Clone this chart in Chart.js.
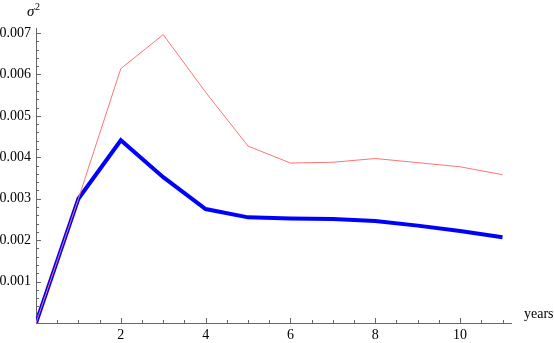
<!DOCTYPE html>
<html>
<head>
<meta charset="utf-8">
<script src="https://cdn.jsdelivr.net/npm/chart.js@4.4.1/dist/chart.umd.min.js"></script>
<style>
  html, body { margin: 0; padding: 0; background: #fff; }
  #wrap { width: 554px; height: 343px; position: relative; }
</style>
</head>
<body>
<div id="wrap"><canvas id="sigmaChart"></canvas></div>
<script>
// years on the x axis
const years = [0, 1, 2, 3, 4, 5, 6, 7, 8, 9, 10, 11];
// thin red series
const redSigma = [0, 0.00300, 0.00614, 0.00696, 0.00557, 0.00427, 0.00386, 0.00388, 0.00397, 0.00387, 0.00377, 0.00358];
// thick blue series
const blueSigma = [0, 0.00300, 0.00441, 0.00352, 0.00275, 0.00255, 0.00252, 0.00251, 0.00246, 0.00235, 0.00222, 0.00207];

const xMax = 11.2, yMax = 0.00712;
const xMinorStep = 0.5, yMinorStep = 0.0002;

const axisColor = '#666';
const serif = "'Liberation Serif', 'Times New Roman', serif";
const font = { family: serif, size: 14 };

const pts = arr => years.map((x, i) => ({ x: x, y: arr[i] }));

// inward ticks + axis names, Mathematica style
const axisDecor = {
  id: 'axisDecor',
  afterDraw(chart) {
    const c = chart.ctx;
    const xs = chart.scales.x, ys = chart.scales.y;
    const area = chart.chartArea;
    c.save();
    c.strokeStyle = axisColor;
    c.lineWidth = 1;
    c.beginPath();
    for (let k = 1; k * xMinorStep <= xMax + 1e-9; k++) {
      const px = Math.round(xs.getPixelForValue(k * xMinorStep)) + 0.5;
      const len = k % 4 === 0 ? 5 : 3;
      c.moveTo(px, area.bottom);
      c.lineTo(px, area.bottom - len);
    }
    for (let k = 1; k * yMinorStep <= yMax + 1e-12; k++) {
      const py = Math.round(ys.getPixelForValue(k * yMinorStep)) + 0.5;
      const len = k % 5 === 0 ? 5 : 3;
      c.moveTo(area.left, py);
      c.lineTo(area.left + len, py);
    }
    c.stroke();

    c.fillStyle = '#000';
    c.textBaseline = 'alphabetic';
    c.textAlign = 'left';
    c.font = 'italic 15px ' + serif;
    c.fillText('σ', 27, 16);
    c.font = '10px ' + serif;
    c.fillText('2', 35, 10);
    c.font = '14px ' + serif;
    c.fillText('years', 524, 318);
    c.restore();
  }
};

new Chart(document.getElementById('sigmaChart'), {
  type: 'line',
  data: {
    datasets: [
      {
        label: 'red',
        data: pts(redSigma),
        borderColor: '#ff7373',
        borderWidth: 1,
        pointRadius: 0,
        tension: 0
      },
      {
        label: 'blue',
        data: pts(blueSigma),
        borderColor: '#0000ff',
        borderWidth: 4,
        pointRadius: 0,
        tension: 0
      }
    ]
  },
  options: {
    responsive: true,
    maintainAspectRatio: false,
    animation: false,
    layout: { padding: { top: 28, right: 43, left: 0, bottom: 0 } },
    plugins: { legend: { display: false }, tooltip: { enabled: false } },
    scales: {
      x: {
        type: 'linear',
        min: 0,
        max: xMax,
        afterFit: s => { s.height = 20; },
        border: { display: true, color: axisColor, width: 1 },
        grid: { display: false, drawTicks: false },
        ticks: {
          stepSize: 2,
          includeBounds: false,
          autoSkip: false,
          maxRotation: 0,
          padding: 4,
          color: '#000',
          font: font,
          callback: v => (v > 0 ? String(Math.round(v)) : '')
        }
      },
      y: {
        type: 'linear',
        min: 0,
        max: yMax,
        afterFit: s => { s.width = 36; },
        border: { display: true, color: axisColor, width: 1 },
        grid: { display: false, drawTicks: false },
        ticks: {
          stepSize: 0.001,
          includeBounds: false,
          autoSkip: false,
          padding: 5,
          color: '#000',
          font: font,
          callback: v => (v > 1e-9 ? v.toFixed(3) : '')
        }
      }
    }
  },
  plugins: [axisDecor]
});
</script>
</body>
</html>
